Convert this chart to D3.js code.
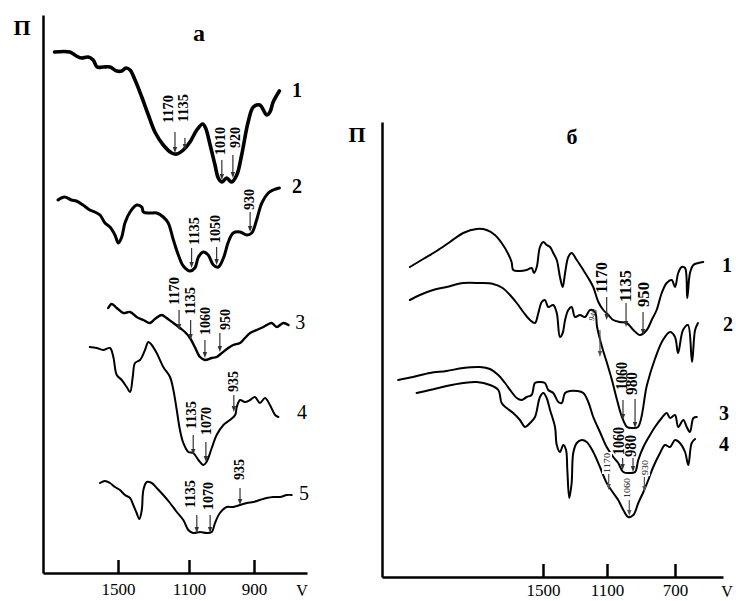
<!DOCTYPE html>
<html><head><meta charset="utf-8">
<script src="https://cdn.jsdelivr.net/npm/d3@7"></script>
<style>body{margin:0;background:#fff}svg{display:block}</style>
</head><body>
<script>
// ---------- DATA (wavenumber cm-1, relative transmittance in arbitrary units) ----------
const ticksA = [1500, 1100, 900];
const ticksB = [1500, 1100, 700];

// Panel а
const a1 = [[1855,521],[1770,521],[1733,517],[1705,515],[1667,516],[1639,513],[1617,506],[1583,506],[1545,506],[1507,502],[1479,502],[1455,505],[1432,503],[1404,493],[1366,476],[1329,458],[1292,441],[1245,428],[1197,420],[1169,419],[1132,423],[1097,431],[1076,443],[1058,449],[1049,445],[1035,428],[1020,408],[1010,395],[999,391],[984,395],[969,391],[953,398],[938,418],[918,451],[902,466],[882,468],[861,458],[851,461],[841,471],[822,482]];
const a2 = [[1836,373],[1799,376],[1761,373],[1733,372],[1696,368],[1658,363],[1630,361],[1601,358],[1573,350],[1545,346],[1517,338],[1498,330],[1479,336],[1461,350],[1432,361],[1395,368],[1366,366],[1357,361],[1320,360],[1282,360],[1245,356],[1217,350],[1188,333],[1160,318],[1132,307],[1097,302],[1082,305],[1071,316],[1056,321],[1041,318],[1025,308],[1010,306],[994,315],[979,331],[964,340],[943,341],[922,338],[907,340],[892,353],[876,370],[856,380],[841,383],[822,385]];
const a3 = [[1555,265],[1535,269],[1507,265],[1470,260],[1432,261],[1395,256],[1357,253],[1320,250],[1292,254],[1254,258],[1226,255],[1188,250],[1151,245],[1123,241],[1097,235],[1082,226],[1066,216],[1051,213],[1030,215],[1015,216],[999,220],[979,225],[964,228],[943,230],[928,235],[912,240],[892,243],[871,246],[846,250],[830,246],[810,250],[794,248]];
const a4 = [[1658,226],[1620,225],[1583,223],[1545,225],[1526,216],[1507,198],[1479,193],[1451,186],[1432,181],[1417,196],[1404,210],[1376,213],[1348,223],[1329,231],[1310,228],[1282,220],[1245,206],[1207,196],[1188,183],[1169,163],[1151,143],[1132,130],[1104,121],[1087,120],[1071,113],[1056,108],[1046,111],[1030,125],[1015,138],[994,148],[974,153],[958,158],[953,166],[943,173],[928,171],[912,173],[897,176],[882,170],[866,175],[851,168],[835,158],[825,156]];
const a5 = [[1601,90],[1573,92],[1545,90],[1517,86],[1489,83],[1461,78],[1432,75],[1414,68],[1395,60],[1380,54],[1366,63],[1357,83],[1338,91],[1310,90],[1282,85],[1245,78],[1207,70],[1169,61],[1132,53],[1104,43],[1087,40],[1066,41],[1046,40],[1030,41],[1020,50],[1005,60],[984,66],[964,66],[943,68],[922,70],[902,71],[882,73],[861,75],[841,76],[820,76],[799,78],[784,78]];
const curveNamesA = ["1","2","3","4","5"];
const curveNamePosA = [[768,483],[768,387],[758,251],[752,161],[746,80]];

// band annotations, panel а: label, arrow wavenumber, arrow top/tip, label wavenumber, label base
const notesA = [
  ["1170",1179,441,420,1218,450],["1135",1123,435,423,1134,451],
  ["1010",999,413,393,1005,418],["920",965,418,395,958,425],
  ["1135",1092,325,305,1085,328],["1050",1015,326,308,1020,330],["930",912,361,341,915,363],
  ["1170",1156,263,243,1184,268],["1135",1095,253,233,1097,258],["1060",1051,233,215,1051,238],["950",1005,240,221,989,243],
  ["935",962,178,161,965,181],["1135",1087,138,118,1094,144],["1070",1048,131,111,1048,138],
  ["1135",1076,58,40,1097,65],["1070",1035,58,40,1042,63],["935",943,85,68,946,93]
];

// Panel б
const b1 = [[2331,310],[2248,318],[2164,326],[2081,335],[1998,344],[1914,348],[1852,347],[1800,342],[1758,334],[1717,323],[1696,315],[1686,307],[1644,306],[1602,307],[1571,309],[1556,304],[1539,310],[1519,330],[1498,335],[1477,332],[1456,330],[1436,324],[1414,317],[1394,300],[1377,290],[1362,304],[1342,320],[1321,324],[1289,317],[1248,307],[1217,299],[1186,290],[1154,275],[1123,267],[1092,262],[1063,257],[1024,255],[984,254],[945,247],[906,242],[866,247],[837,257],[808,267],[778,284],[749,294],[719,297],[700,290],[681,304],[661,310],[641,309],[628,279],[612,304],[592,312],[563,314],[534,315]];
const b2 = [[2331,277],[2269,282],[2186,287],[2102,290],[1998,294],[1894,294],[1811,293],[1752,289],[1706,282],[1664,274],[1623,265],[1581,257],[1550,254],[1529,264],[1508,275],[1488,277],[1467,270],[1436,272],[1414,264],[1394,240],[1377,244],[1362,257],[1342,267],[1321,270],[1300,260],[1269,262],[1237,260],[1206,267],[1175,265],[1162,250],[1131,230],[1100,214],[1071,197],[1041,177],[1012,160],[982,150],[953,149],[918,150],[865,192],[818,218],[771,237],[729,245],[700,240],[682,224],[653,247],[624,252],[600,215],[582,247],[565,254]];
const b3 = [[2404,197],[2311,200],[2206,204],[2102,206],[1998,209],[1894,210],[1831,208],[1779,202],[1737,194],[1696,185],[1664,179],[1633,177],[1602,180],[1571,182],[1550,194],[1519,195],[1488,194],[1467,187],[1436,184],[1404,175],[1383,174],[1362,184],[1331,186],[1289,186],[1248,184],[1217,175],[1186,160],[1144,145],[1102,130],[1063,120],[1034,114],[1004,105],[965,104],[935,105],[916,117],[886,130],[847,142],[818,150],[778,159],[749,164],[729,159],[700,162],[681,150],[651,157],[631,150],[612,145],[592,159],[572,160]];
const b4 = [[2289,184],[2206,187],[2102,191],[1998,194],[1914,195],[1831,192],[1779,187],[1758,174],[1727,169],[1686,164],[1644,157],[1612,150],[1581,154],[1550,160],[1519,180],[1498,184],[1477,179],[1456,167],[1425,150],[1414,132],[1394,125],[1373,132],[1356,127],[1348,107],[1336,79],[1321,94],[1311,124],[1289,134],[1258,137],[1227,135],[1186,125],[1144,110],[1102,94],[1063,84],[1034,77],[1004,67],[975,60],[945,62],[916,74],[886,85],[857,97],[828,110],[788,124],[759,132],[729,130],[700,137],[671,134],[641,125],[622,112],[602,134],[582,138]];
const curveNamesB = ["1","2","3","4"];
const curveNamePosB = [[394,312],[388,253],[412,164],[412,133]];

const notesB = [
  ["1170",1102,280,257,1133,284,31],["1135",988,274,250,994,275,32],["950",888,265,242,888,270,25],
  ["1060",1006,177,157,1012,187,28],["980",935,178,149,953,182,23],
  ["1060",1008,119,107,1034,122,28],["980",947,119,105,962,120,22]
];
const smallNotesB = [
  ["940",1144,247,220,1187,262,-70],
  ["1170",1090,103,87,1100,104,-90],["1060",969,77,61,984,79,-90],["930",880,100,85,876,102,-90]
];

// ---------- DRAWING ----------
const W = 736, H = 601;
const svg = d3.select("body").append("svg").attr("width", W).attr("height", H);
const serif = '"Liberation Serif","Times New Roman",serif';

const xa = d3.scaleLinear().domain([1920,1500,1100,900,737]).range([43,118,189,254,307]);
const ya = d3.scaleLinear().domain([0,558]).range([573,15]);
const xb = d3.scaleLinear().domain([2505,1500,1100,700,418]).range([382,543,607,675,723]);
const yb = d3.scaleLinear().domain([0,455]).range([577,122]);

function axes(x, y, ticks, vx, pad) {
  const gx = svg.append("g").attr("transform", `translate(0,${y(0)})`)
    .call(d3.axisBottom(x).tickValues(ticks).tickSizeInner(-13).tickSizeOuter(0).tickPadding(pad).tickFormat(d => d));
  gx.select(".domain").attr("stroke", "#000").attr("stroke-width", 2.5);
  gx.selectAll(".tick line").attr("stroke", "#000").attr("stroke-width", 2.5);
  gx.selectAll(".tick text").attr("font-family", serif).attr("font-size", 17).attr("fill", "#000");
  const gy = svg.append("g").attr("transform", `translate(${x.range()[0]},0)`)
    .call(d3.axisLeft(y).tickValues([]).tickSizeOuter(0));
  gy.select(".domain").attr("stroke", "#000").attr("stroke-width", 2.5);
  svg.append("text").attr("x", vx).attr("y", y(0) + pad + 7).attr("text-anchor", "middle")
    .attr("dominant-baseline", "central").attr("font-family", serif).attr("font-size", 16).text("V");
}
axes(xa, ya, ticksA, 302, 10);
axes(xb, yb, ticksB, 727, 7);

function txt(x, y, s, size, bold) {
  return svg.append("text").attr("x", x).attr("y", y).attr("text-anchor", "middle")
    .attr("dominant-baseline", "central").attr("font-family", serif)
    .attr("font-size", size).attr("font-weight", bold ? "bold" : "normal").text(s);
}
txt(22, 27, "П", 22, true);
txt(357, 134, "П", 22, true);
txt(199, 33, "а", 24, true);
txt(572, 136, "б", 22, true);

const line = (x, y) => d3.line().x(d => x(d[0])).y(d => y(d[1])).curve(d3.curveCatmullRom.alpha(0.5));

function curves(list, widths, x, y) {
  list.forEach((c, i) => {
    svg.append("path").datum(c).attr("d", line(x, y)).attr("fill", "none")
      .attr("stroke", "#000").attr("stroke-width", widths[i])
      .attr("stroke-linejoin", "round").attr("stroke-linecap", "round");
  });
}
curves([a1, a2, a3, a4, a5], [3.6, 3, 2.4, 2, 2], xa, ya);
curves([b1, b2, b3, b4], [2, 2, 2, 2], xb, yb);

curveNamesA.forEach((n, i) => txt(xa(curveNamePosA[i][0]), ya(curveNamePosA[i][1]), n, 20, i < 2));
curveNamesB.forEach((n, i) => txt(xb(curveNamePosB[i][0]), yb(curveNamePosB[i][1]), n, 20, true));

function arrow(x, yTop, yTip, col) {
  svg.append("line").attr("x1", x).attr("x2", x).attr("y1", yTop).attr("y2", yTip - 3)
    .attr("stroke", col).attr("stroke-width", 1.2);
  svg.append("path").attr("d", `M${x - 2.2},${yTip - 6}L${x},${yTip}L${x + 2.2},${yTip - 6}Z`)
    .attr("fill", col).attr("stroke", "none");
}
function rotLabel(x, yBase, s, size, len, bold, rot) {
  svg.append("text").attr("transform", `translate(${x},${yBase}) rotate(${rot})`)
    .attr("text-anchor", "start").attr("dominant-baseline", "central")
    .attr("font-family", serif).attr("font-size", size).attr("font-weight", bold ? "bold" : "normal")
    .attr("textLength", len).attr("lengthAdjust", "spacingAndGlyphs").text(s);
}

notesA.forEach(n => {
  arrow(xa(n[1]), ya(n[2]), ya(n[3]), "#333");
  rotLabel(xa(n[4]), ya(n[5]), n[0], 15, n[0].length * 7, true, -90);
});
notesB.forEach(n => {
  arrow(xb(n[1]), yb(n[2]), yb(n[3]), "#333");
  rotLabel(xb(n[4]), yb(n[5]), n[0], 17, n[6], true, -90);
});
smallNotesB.forEach(n => {
  const len = n[0].length * 5;
  const cx = xb(n[4]), cy = yb(n[5]);
  if (n[6] === -90) {
    svg.append("rect").attr("x", cx - 5).attr("y", cy - len - 1).attr("width", 10).attr("height", len + 2).attr("fill", "#fff");
    arrow(xb(n[1]), yb(n[2]), yb(n[3]), "#555");
    rotLabel(cx, cy, n[0], 9, len, false, -90);
  } else {
    arrow(xb(n[1]), yb(n[2]), yb(n[3]), "#555");
    svg.append("text").attr("transform", `translate(${cx},${cy}) rotate(${n[6]})`)
      .attr("text-anchor", "middle").attr("dominant-baseline", "central")
      .attr("font-family", serif).attr("font-size", 8).attr("fill", "#222").text(n[0]);
  }
});
</script>
</body></html>
